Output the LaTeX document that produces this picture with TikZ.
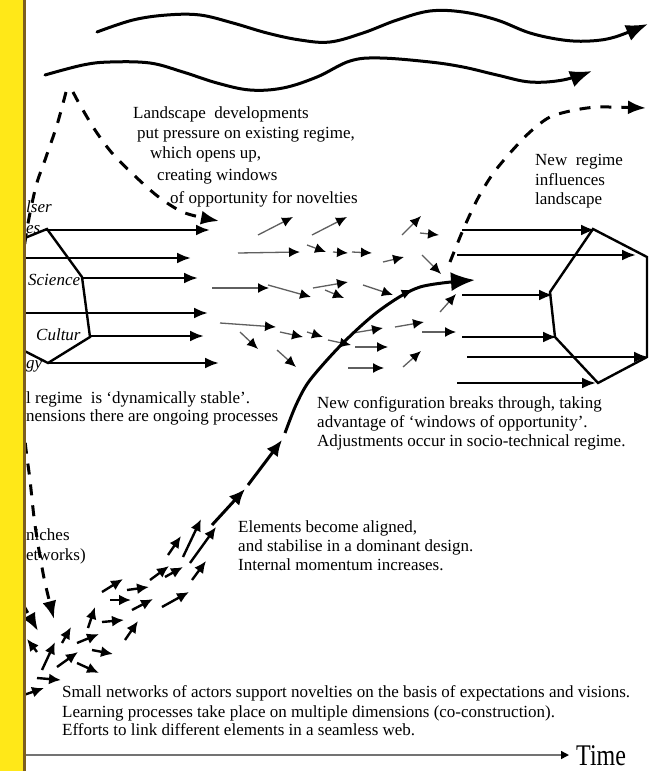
\documentclass[tikz,border=0pt]{standalone}
\usepackage{fontspec}
\setmainfont{Liberation Serif}
\usetikzlibrary{arrows.meta,decorations.markings}
\definecolor{stripyellow}{RGB}{255,232,24}
\definecolor{stripbrown}{RGB}{125,95,30}
\definecolor{shaft}{RGB}{95,95,95}
\begin{document}
\begin{tikzpicture}[x=1pt,y=-1pt,
  wave/.style={line width=3pt,line cap=round,-{Latex[length=22pt,width=17pt]}},
  regarrow/.style={line width=2.5pt,-{Latex[length=14pt,width=11pt]}},
  dasharrow/.style={line width=3pt,dash pattern=on 11pt off 10pt,-{Latex[length=18pt,width=14pt]}},
  smallarrow/.style={line width=2.4pt,-{Latex[length=12pt,width=11pt]}},
  tinyarrow/.style={line width=1.3pt,draw=shaft,-{Latex[length=11pt,width=10pt,color=black]}},
  bigarrow/.style={line width=3pt,-{Latex[length=16pt,width=14pt]}},
  hexa/.style={line width=2.4pt,line join=miter},
  txt/.style={font=\fontsize{17}{20}\selectfont,anchor=base west,inner sep=0pt},
  itxt/.style={font=\fontsize{17}{20}\selectfont\itshape,anchor=base west,inner sep=0pt}]
\useasboundingbox (0,0) rectangle (659,771);
\fill[white] (0,0) rectangle (659,771);

% landscape waves
\draw[wave] plot[smooth,tension=0.6] coordinates {(97,32) (133,20) (167,15) (200,15) (233,23) (267,33) (300,40) (330,42) (363,33) (397,20) (430,11) (463,12) (497,20) (530,33) (563,40) (590,41) (615,37) (648,24)};
\draw[wave] plot[smooth,tension=0.6] coordinates {(45,75) (83,65) (110,62) (150,63) (183,72) (217,83) (250,90) (283,88) (317,77) (350,61) (380,58) (430,62) (463,67) (497,75) (530,82) (563,80) (592,71)};

% dashed landscape arrows
\draw[dasharrow] plot[smooth] coordinates {(73,92) (80,105) (95,130) (112,153) (137,178) (160,198) (185,213) (219,221)};
\draw[dasharrow] plot[smooth] coordinates {(66,92) (57,125) (45,160) (35,190) (24,250) (19,340) (24,430) (30,480) (35,525) (44,578) (54,619)};
\draw[dasharrow] (12,585) -- (38,631);
\draw[dasharrow] plot[smooth] coordinates {(450,262) (463,230) (477,200) (492,175) (510,153) (530,132) (550,117) (575,110) (600,107) (646,108)};

% existing regime (left)
\draw[hexa] (5,246) -- (47,229) -- (82,277) -- (90,337) -- (48,363) -- (5,341);
\coordinate (la1) at (45,230); \coordinate (lb1) at (210,230);
\coordinate (la2) at (26,258); \coordinate (lb2) at (191,258);
\coordinate (la3) at (82,278); \coordinate (lb3) at (198,278);
\coordinate (la4) at (26,313); \coordinate (lb4) at (208,313);
\coordinate (la5) at (90,336); \coordinate (lb5) at (204,336);
\coordinate (la6) at (48,363); \coordinate (lb6) at (219,363);
\foreach \i in {1,...,6} \draw[regarrow] (la\i) -- (lb\i);

% new regime (right)
\draw[hexa] (593,229) -- (647,257) -- (647,357) -- (598,383) -- (555,337) -- (550,292) -- cycle;
\coordinate (ra1) at (462,230); \coordinate (rb1) at (595,230);
\coordinate (ra2) at (457,255); \coordinate (rb2) at (636,255);
\coordinate (ra3) at (462,295); \coordinate (rb3) at (553,295);
\coordinate (ra4) at (462,337); \coordinate (rb4) at (557,337);
\coordinate (ra5) at (467,357); \coordinate (rb5) at (648,357);
\coordinate (ra6) at (457,383); \coordinate (rb6) at (596,383);
\foreach \i in {1,...,6} \draw[regarrow] (ra\i) -- (rb\i);

% middle cluster of novelties
\foreach \a/\b/\c/\d in {258/235/293/217, 312/235/347/217, 238/253/300/252, 307/245/326/252,
  333/252/348/253, 352/252/372/253, 383/262/404/257, 402/235/421/216, 420/233/439/235,
  422/255/441/274, 212/288/269/288, 268/285/311/297, 313/288/348/282, 325/290/344/298,
  363/285/393/295, 220/323/276/327, 280/332/303/337, 307/332/323/337, 240/332/258/349,
  277/350/296/367, 328/340/351/345, 353/333/383/328, 355/347/388/347, 348/368/384/368,
  395/327/424/322, 422/332/456/332, 403/367/421/351, 440/312/456/294}
  \draw[tinyarrow] (\a,\b) -- (\c,\d);

% breakthrough trajectory
\draw[bigarrow] (212,525) -- (245,489);
\draw[bigarrow] (248,485) -- (282,440);
\draw[line width=3pt,-{Latex[length=24pt,width=19pt]},
  postaction={decorate},decoration={markings,mark=at position 0.76 with {\arrow{Latex[length=12pt,width=10pt]}}}]
  plot[smooth] coordinates {(285,433) (296,405) (310,380) (343,343) (380,310) (420,287) (475,280)};

% niche cluster
\foreach \a/\b/\c/\d in {102/592/123/579, 127/590/149/587, 110/600/131/600, 132/610/153/599,
  150/580/169/566, 165/577/183/567, 162/607/189/592, 168/555/181/536, 183/557/201/519,
  190/563/216/527, 192/580/206/561, 88/628/95/607, 102/622/124/620, 125/640/138/621,
  77/643/99/634, 92/650/113/654, 57/667/78/652, 42/670/55/642, 37/652/27/639,
  62/643/71/627, 77/663/99/673, 37/678/61/680, 18/697/44/688}
  \draw[smallarrow] (\a,\b) -- (\c,\d);

% time axis
\coordinate (t0) at (26,755);
\coordinate (t1) at (569,755);
\draw[line width=1.5pt,draw=black!55,-{Triangle[length=8pt,width=8pt,color=black]}] (t0) -- (t1);
\node[anchor=base west,inner sep=0pt] (time) at (576,765) {\scalebox{0.8}[1]{\fontsize{30}{30}\selectfont Time}};

% texts
\node[txt] (l1) at (133,118) {Landscape\ \ developments};
\node[txt] (l2) at (137,138) {put pressure on existing regime,};
\node[txt] (l3) at (150,158) {which opens up,};
\node[txt] (l4) at (157,180) {creating windows};
\node[txt] (l5) at (170,203) {of opportunity for novelties};

\node[txt] (n1) at (535,165) {New\ \ regime};
\node[txt] (n2) at (535,185) {influences};
\node[txt] (n3) at (535,204) {landscape};

\node[txt] (c1) at (317,408) {New configuration breaks through, taking};
\node[txt] (c2) at (317,427) {advantage of ‘windows of opportunity’.};
\node[txt] (c3) at (317,446) {Adjustments occur in socio-technical regime.};

\node[txt] (e1) at (238,532) {Elements become aligned,};
\node[txt] (e2) at (238,551) {and stabilise in a dominant design.};
\node[txt] (e3) at (238,570) {Internal momentum increases.};

\node[txt] (s1) at (62,697) {Small networks of actors support novelties on the basis of expectations and visions.};
\node[txt] (s2) at (62,717) {Learning processes take place on multiple dimensions (co-construction).};
\node[txt] (s3) at (62,735) {Efforts to link different elements in a seamless web.};

\node[txt] (g1) at (26,403) {l regime\ \ is ‘dynamically stable’.};
\node[txt] (g2) at (26,421) {nensions there are ongoing processes};

\node[txt] (h1) at (26,540) {niches};
\node[txt] (h2) at (26,560) {etworks)};

\node[itxt] (u1) at (26,212) {lser};
\node[itxt] (u2) at (26,233) {es};
\node[itxt] (u3) at (28,285) {Science};
\node[itxt] (u4) at (36,340) {Cultur};
\node[itxt] (u5) at (26,368) {gy};

% cropping strip
\fill[stripyellow] (0,0) rectangle (23,771);
\fill[stripbrown] (23,0) rectangle (26,771);
\end{tikzpicture}
\end{document}
